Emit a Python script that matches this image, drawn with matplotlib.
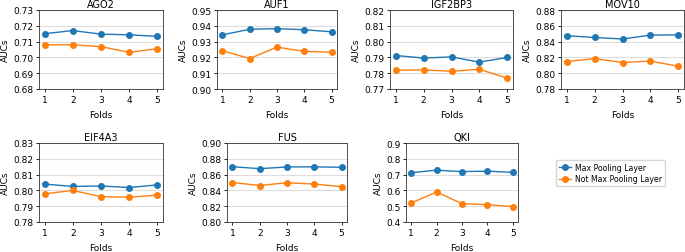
import numpy as np
import matplotlib
matplotlib.use("Agg")
from matplotlib import pyplot as plt

folds = [1, 2, 3, 4, 5]
names = ["AGO2", "AUF1", "IGF2BP3", "MOV10", "EIF4A3", "FUS", "QKI"]

max_pool = {
    "AGO2": [0.7150, 0.7170, 0.7147, 0.7143, 0.7133],
    "AUF1": [0.9343, 0.9378, 0.9382, 0.9375, 0.9362],
    "IGF2BP3": [0.7912, 0.7896, 0.7903, 0.7870, 0.7900],
    "MOV10": [0.8475, 0.8452, 0.8433, 0.8482, 0.8485],
    "EIF4A3": [0.8040, 0.8025, 0.8028, 0.8018, 0.8035],
    "FUS": [0.8700, 0.8675, 0.8697, 0.8698, 0.8693],
    "QKI": [0.712, 0.728, 0.719, 0.722, 0.714],
}
no_pool = {
    "AGO2": [0.7080, 0.7080, 0.7068, 0.7032, 0.7055],
    "AUF1": [0.9242, 0.9193, 0.9265, 0.9238, 0.9233],
    "IGF2BP3": [0.7819, 0.7821, 0.7812, 0.7825, 0.7768],
    "MOV10": [0.8147, 0.8185, 0.8135, 0.8153, 0.8088],
    "EIF4A3": [0.7978, 0.8000, 0.7960, 0.7957, 0.7970],
    "FUS": [0.8500, 0.8462, 0.8497, 0.8480, 0.8447],
    "QKI": [0.520, 0.590, 0.516, 0.510, 0.497],
}
ylims = {
    "AGO2": (0.68, 0.73, 0.01),
    "AUF1": (0.90, 0.95, 0.01),
    "IGF2BP3": (0.77, 0.82, 0.01),
    "MOV10": (0.78, 0.88, 0.02),
    "EIF4A3": (0.78, 0.83, 0.01),
    "FUS": (0.80, 0.90, 0.02),
    "QKI": (0.4, 0.9, 0.1),
}

W, H = 685, 253
# axes boxes in pixels: left, right, top, bottom
boxes = {
    "AGO2": (39, 163, 11, 90),
    "AUF1": (217, 337, 11, 90),
    "IGF2BP3": (390, 513, 11, 90),
    "MOV10": (561, 684, 11, 90),
    "EIF4A3": (39, 163, 144, 223),
    "FUS": (227, 347, 144, 223),
    "QKI": (406, 518, 144, 223),
}

fig = plt.figure(figsize=(W / 100, H / 100), dpi=100)
fs = 6.5
for name in names:
    l, r, t, b = boxes[name]
    ax = fig.add_axes([l / W, 1 - b / H, (r - l) / W, (b - t) / H])
    l1, = ax.plot(folds, max_pool[name], "-o", color="#1f77b4", lw=1, ms=4,
                  label="Max Pooling Layer")
    l2, = ax.plot(folds, no_pool[name], "-o", color="#ff7f0e", lw=1, ms=4,
                  label="Not Max Pooling Layer")
    lo, hi, st = ylims[name]
    ticks = np.arange(lo, hi + st / 2, st)
    ax.set_ylim(lo, hi)
    ax.set_yticks(ticks)
    fmt = "%.1f" if name == "QKI" else "%.2f"
    ax.set_yticklabels([fmt % v for v in ticks])
    ax.set_xticks(folds)
    ax.set_xlim(0.8, 5.2)
    ax.yaxis.grid(True, color="#dddddd", lw=0.8)
    ax.set_axisbelow(True)
    ax.tick_params(labelsize=fs, length=2.5, width=0.6, pad=1.5)
    for s in ax.spines.values():
        s.set_linewidth(0.6)
        s.set_color("#333333")
    ax.set_title(name, fontsize=7, pad=2)
    ax.set_ylabel("AUCs", fontsize=fs, labelpad=2.5)
    ax.set_xlabel("Folds", fontsize=fs, labelpad=5)

fig.legend(handles=[l1, l2], loc="upper left", fontsize=5.6,
           bbox_to_anchor=(552 / W, 1 - 157 / H), frameon=True,
           handlelength=1.5, borderpad=0.4, labelspacing=0.3,
           handletextpad=0.6)

fig.savefig("out.png", dpi=100)
